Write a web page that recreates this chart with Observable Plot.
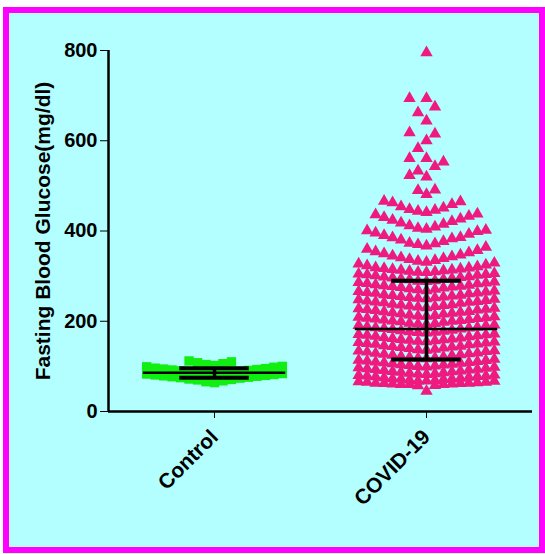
<!DOCTYPE html>
<html><head><meta charset="utf-8">
<script src="https://cdn.jsdelivr.net/npm/d3@7"></script>
<script src="https://cdn.jsdelivr.net/npm/@observablehq/plot@0.6"></script>
<style>
html,body{margin:0;padding:0;background:#fff;}
#frame{position:absolute;left:3px;top:7px;width:530px;height:534px;border:6px solid #ff00ff;background:#b3ffff;}
#chart{position:absolute;left:0;top:0;}
</style></head><body>
<div id="frame"></div><div id="chart"></div>
<script>
const groups = ["Control", "COVID-19"];
const yTicks = [0, 200, 400, 600, 800];
const yLabel = "Fasting Blood Glucose(mg/dl)";

const controlValues = [64, 66, 68, 70, 71, 72, 74, 75, 76, 77, 78, 79, 80, 81, 82, 83, 84, 85, 86, 86,
  87, 88, 88, 89, 90, 91, 92, 93, 94, 95, 96, 98, 99, 100, 102, 104, 106, 108, 110, 112];

const covidValues = [
  795, 694, 694, 675, 662, 644, 618, 615, 600, 583, 561, 561, 553, 543, 533, 523, 520, 491, 490, 481, 466, 465, 463, 459,
  454, 451, 448, 446, 444, 441, 438, 436, 433, 430, 427, 424, 421, 418, 415, 412, 409, 406, 404, 402, 401, 399,
  396, 393, 390, 386, 383, 380, 377, 373, 370, 367, 364, 360, 357, 354, 352, 350, 385, 372,
  347, 345, 343, 341, 339, 337, 335, 333, 331, 329, 327, 325, 323, 321, 319, 318, 317, 316, 315, 314, 313, 312, 311, 310, 309, 308, 306, 305, 304, 303, 302, 301,
  299, 298, 297, 295, 294, 293, 292, 290, 289, 288, 287, 285, 284, 283, 281, 280, 279, 278, 276, 275, 274, 272, 271, 270, 268, 267, 266, 264, 263, 262, 261, 259, 258, 257, 256, 255, 254, 253, 252, 251, 250, 296, 286, 277, 265,
  249, 248, 246, 245, 244, 242, 241, 240, 238, 237, 236, 234, 233, 232, 230, 229, 228, 226, 225, 224, 222, 221, 220, 218, 217, 216, 214, 213, 212, 210, 209, 208, 206, 205, 204, 203, 202, 201, 200, 243, 235, 227, 219, 211, 207,
  199, 198, 196, 195, 194, 192, 191, 190, 188, 187, 186, 184, 183, 182, 180, 179, 178, 176, 175, 174, 172, 171, 170, 168, 167, 166, 164, 163, 162, 160, 159, 158, 156, 155, 154, 153, 152, 151, 150, 193, 185, 177, 169, 161, 157,
  149, 148, 146, 145, 144, 142, 141, 140, 138, 137, 136, 134, 133, 132, 130, 129, 128, 126, 125, 124, 122, 121, 120, 118, 117, 116, 114, 113, 112, 110, 109, 108, 106, 105, 104, 103, 102, 101, 100, 143, 135, 127, 119, 111, 107,
  99, 98, 97, 96, 95, 93, 92, 91, 90, 89, 88, 86, 85, 84, 83, 82, 81, 80, 79, 78, 77, 76, 75, 74, 73, 72, 71, 70, 69, 68, 67, 66, 65, 64, 63, 62, 61, 60,
  94, 87, 79, 72, 68, 65, 63, 61, 62, 60, 58, 57, 60, 45
];

// summary lines: centre, lower and upper error bar
const centerValues = [86, 183];
const lowerValues = [75, 115];
const upperValues = [96, 290];

// layout (style) constants
const W = 545, H = 554, mL = 108, mR = 13, mT = 50, mB = 143;
const groupGap = 25, halfSpan = 12.5;
const pxPerUnit = (H - mT - mB) / 800;

function swarm(values, group, minDyPx, maxCol) {
  const center = groups.indexOf(group) * groupGap;
  const last = new Map();
  return values.slice().sort((a, b) => a - b).map(v => {
    const ypx = v * pxPerUnit;
    let best = null, bestY = Infinity;
    for (let k = 0; k <= 2 * maxCol; k++) {
      const c = k % 2 ? -(k + 1) / 2 : k / 2;
      const l = last.get(c);
      if (l === undefined || ypx - l >= minDyPx) { best = c; break; }
      if (l < bestY) { bestY = l; best = c; }
    }
    last.set(best, ypx);
    return {group, value: v, x: center + best};
  });
}

const controlData = swarm(controlValues, "Control", 12, 8);
const covidData = swarm(covidValues, "COVID-19", 16, 8);
const stats = groups.map((g, i) => ({group: g, x: i * groupGap, c: centerValues[i], lo: lowerValues[i], hi: upperValues[i]}));
const meanHalf = 8.4, capHalf = 4.1;

const chart = Plot.plot({
  width: W, height: H, marginLeft: mL, marginRight: mR, marginTop: mT, marginBottom: mB,
  style: {background: "transparent", fontFamily: "'Liberation Sans', Arial, sans-serif", fontWeight: "bold", fontSize: "20px", color: "#000"},
  x: {domain: [-halfSpan, groupGap + halfSpan], axis: null},
  y: {domain: [0, 800], axis: null},
  marks: [
    Plot.dot(controlData, {x: "x", y: "value", symbol: "square", r: 5.3, fill: "#11ee11"}),
    Plot.dot(covidData, {x: "x", y: "value", symbol: "triangle", r: 4.6, fill: "#ef1a7f"}),
    Plot.ruleY(stats, {y: "c", x1: d => d.x - meanHalf, x2: d => d.x + meanHalf, stroke: "#000", strokeWidth: 2.5}),
    Plot.ruleX(stats, {x: "x", y1: "lo", y2: "hi", stroke: "#000", strokeWidth: 3.5}),
    Plot.ruleY(stats, {y: "lo", x1: d => d.x - capHalf, x2: d => d.x + capHalf, stroke: "#000", strokeWidth: 4}),
    Plot.ruleY(stats, {y: "hi", x1: d => d.x - capHalf, x2: d => d.x + capHalf, stroke: "#000", strokeWidth: 4}),
    Plot.ruleX([-halfSpan], {y1: 0, y2: 800, stroke: "#000", strokeWidth: 2.5}),
    Plot.ruleY([0], {stroke: "#000", strokeWidth: 2.5}),
    Plot.axisY({ticks: yTicks, tickSize: 8, tickPadding: 3, tickWidth: 2, fontSize: 20, label: null}),
    Plot.text([yLabel], {frameAnchor: "left", dx: -65, rotate: -90, textAnchor: "middle", lineAnchor: "middle", fontSize: 21, fontWeight: "bold", fill: "#000"}),
    Plot.axisX({ticks: groups.map((g, i) => i * groupGap), tickFormat: v => groups[Math.round(v / groupGap)], tickRotate: -45, tickSize: 7, tickPadding: 15, fontSize: 21, label: null})
  ]
});
document.getElementById("chart").append(chart);
</script>
</body></html>
